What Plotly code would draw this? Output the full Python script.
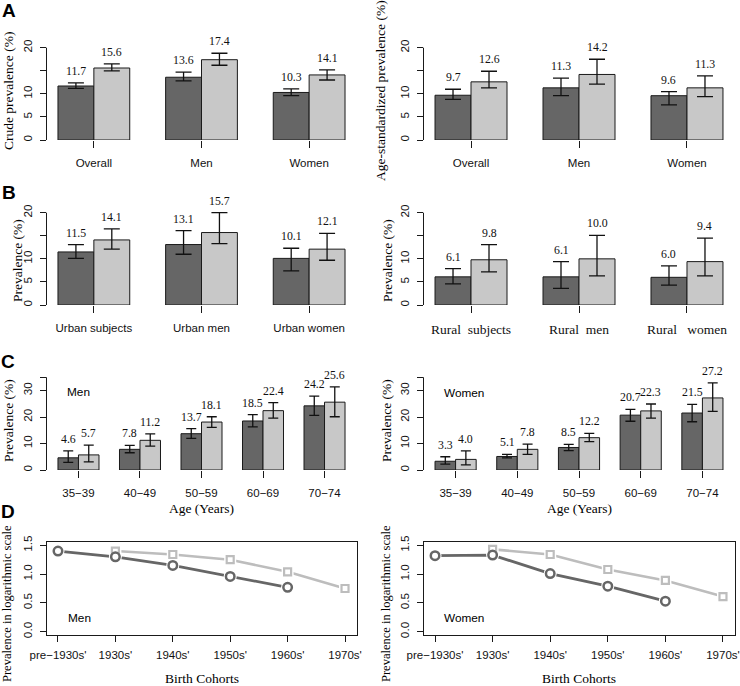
import plotly.graph_objects as go

W, H = 740, 686
SANS = "Liberation Sans, Arial, Helvetica, sans-serif"
SERIF = "Liberation Serif, Times New Roman, serif"
DARK = "#666666"
LIGHT = "#c8c8c8"
LINE_LIGHT = "#bdbdbd"
EDGE = "#1a1a1a"
AXC = "#1a1a1a"
TXT = "#111111"

# ---------------- data ----------------
a_groups = ["Overall", "Men", "Women"]
a1_dark = [11.7, 13.6, 10.3]
a1_dark_lo = [11.2, 12.8, 9.6]
a1_dark_hi = [12.4, 14.7, 11.1]
a1_light = [15.6, 17.4, 14.1]
a1_light_lo = [15.0, 16.2, 13.0]
a1_light_hi = [16.5, 18.8, 15.2]

a2_dark = [9.7, 11.3, 9.6]
a2_dark_lo = [8.8, 9.6, 7.6]
a2_dark_hi = [11.0, 13.4, 10.5]
a2_light = [12.6, 14.2, 11.3]
a2_light_lo = [11.3, 12.1, 9.4]
a2_light_hi = [14.9, 17.5, 13.9]

b_urban_groups = ["Urban subjects", "Urban men", "Urban women"]
b1_dark = [11.5, 13.1, 10.1]
b1_dark_lo = [10.1, 11.0, 7.4]
b1_dark_hi = [13.1, 16.1, 12.3]
b1_light = [14.1, 15.7, 12.1]
b1_light_lo = [12.1, 13.3, 9.7]
b1_light_hi = [16.5, 20.0, 15.5]

b_rural_groups = ["Rural\u00a0\u00a0subjects", "Rural\u00a0\u00a0men", "Rural\u00a0\u00a0\u00a0women"]
b2_dark = [6.1, 6.1, 6.0]
b2_dark_lo = [4.6, 3.6, 4.3]
b2_dark_hi = [7.9, 9.4, 8.5]
b2_light = [9.8, 10.0, 9.4]
b2_light_lo = [7.2, 6.3, 6.3]
b2_light_hi = [13.1, 15.1, 14.5]

c_ages = ["35\u221239", "40\u221249", "50\u221259", "60\u221269", "70\u221274"]
c1_dark = [4.6, 7.8, 13.7, 18.5, 24.2]
c1_dark_lo = [2.9, 6.5, 11.9, 16.3, 20.6]
c1_dark_hi = [7.2, 9.3, 15.6, 20.9, 27.9]
c1_light = [5.7, 11.2, 18.1, 22.4, 25.6]
c1_light_lo = [3.1, 9.0, 16.1, 19.6, 20.1]
c1_light_hi = [9.4, 13.6, 20.1, 25.4, 31.4]

c2_dark = [3.3, 5.1, 8.5, 20.7, 21.5]
c2_dark_lo = [2.2, 4.6, 7.3, 18.4, 18.2]
c2_dark_hi = [5.0, 5.9, 9.7, 22.9, 24.8]
c2_light = [4.0, 7.8, 12.2, 22.3, 27.2]
c2_light_lo = [1.9, 5.9, 10.7, 19.6, 22.1]
c2_light_hi = [7.2, 9.8, 13.8, 24.9, 32.9]

ab_ticks = [0, 5, 10, 15, 20]
ab_ticktext = ["0", "5", "10", "", "20"]
c_ticks = [0, 10, 20, 30, 35]
c_ticktext = ["0", "10", "20", "30", ""]

d_cohorts = ["pre\u22121930s'", "1930s'", "1940s'", "1950s'", "1960s'", "1970s'"]
d_men_dark = [1.40, 1.30, 1.15, 0.96, 0.77, None]
d_men_light = [None, 1.40, 1.34, 1.25, 1.04, 0.75]
d_women_dark = [1.32, 1.33, 1.01, 0.79, 0.53, None]
d_women_light = [None, 1.43, 1.34, 1.08, 0.89, 0.61]
d_ticks = [0, 0.5, 1.0, 1.5]
d_ticktext = ["0.0", "0.5", "1.0", "1.5"]

# ---------------- layout helpers ----------------
LEFT = (46.5, 356.5)
RIGHT = (423.5, 734.5)


def xdom(px):
    return [px[0] / W, px[1] / W]


def ydom(bottom_px, top_px):
    return [1 - bottom_px / H, 1 - top_px / H]


fig = go.Figure()
layout = dict(width=W, height=H, margin=dict(l=0, r=0, t=0, b=0),
              paper_bgcolor="white", plot_bgcolor="rgba(0,0,0,0)",
              showlegend=False, barmode="group", bargap=1 / 3, bargroupgap=0)
shapes = []
annotations = []


def ax_names(idx):
    s = "" if idx == 1 else str(idx)
    return "x" + s, "y" + s, "xaxis" + s, "yaxis" + s


def bar_panel(idx, cats, d, dlo, dhi, l, llo, lhi, xpx, zero_px, k, ytop,
              tickvals, ticktext, cap, xtickfont):
    xa, ya, xk, yk = ax_names(idx)
    for vals, lo, hi, col in ((d, dlo, dhi, DARK), (l, llo, lhi, LIGHT)):
        fig.add_trace(go.Bar(
            x=cats, y=vals, xaxis=xa, yaxis=ya,
            marker=dict(color=col, line=dict(color=EDGE, width=1)),
            error_y=dict(type="data", symmetric=False,
                         array=[h - v for h, v in zip(hi, vals)],
                         arrayminus=[v - q for v, q in zip(vals, lo)],
                         color="#111111", thickness=1.3, width=cap),
            hoverinfo="skip"))
    n = len(cats)
    ext = 0.04 * (3 * n - 1)
    rng_x = [(-1 - ext) / 3, (3 * n - 2 + ext) / 3]
    yr = tickvals[-1] * 1.25
    layout[xk] = dict(domain=xdom(xpx), anchor=ya, type="category", range=rng_x,
                      showline=False, showgrid=False, zeroline=False,
                      ticks="outside", ticklen=7, tickwidth=1, tickcolor=AXC,
                      tickfont=xtickfont, ticklabelstandoff=5, automargin=False,
                      fixedrange=True)
    layout[yk] = dict(domain=ydom(zero_px, zero_px - yr * k), anchor=xa,
                      range=[0, yr], showline=False, showgrid=False, zeroline=False,
                      tickvals=tickvals, ticktext=ticktext, tickangle=-90,
                      ticks="outside", ticklen=6, tickwidth=1, tickcolor=AXC,
                      tickfont=dict(family=SANS, size=11.8, color=TXT),
                      ticklabelstandoff=3, automargin=False, fixedrange=True)
    shapes.append(dict(type="line", xref=xa + " domain", yref=ya,
                       x0=0, x1=0, y0=tickvals[0], y1=tickvals[-1],
                       line=dict(color=AXC, width=1)))
    for i in range(n):
        for off, v, h in ((-1 / 6, d[i], dhi[i]), (1 / 6, l[i], lhi[i])):
            annotations.append(dict(xref=xa, yref=ya, x=i + off, y=h,
                                    text=f"{v:.1f}", showarrow=False,
                                    yanchor="bottom", xanchor="center", yshift=3,
                                    font=dict(family=SERIF, size=11.8, color=TXT)))


sans_tick = dict(family=SANS, size=11.5, color=TXT)
serif_tick = dict(family=SERIF, size=13.5, color=TXT)

K_AB = 4.615
K_C = 2.65
bar_panel(1, a_groups, a1_dark, a1_dark_lo, a1_dark_hi, a1_light, a1_light_lo, a1_light_hi,
          LEFT, 140, K_AB, 20, ab_ticks, ab_ticktext, 8, sans_tick)
bar_panel(2, a_groups, a2_dark, a2_dark_lo, a2_dark_hi, a2_light, a2_light_lo, a2_light_hi,
          RIGHT, 140, K_AB, 20, ab_ticks, ab_ticktext, 8, sans_tick)
bar_panel(3, b_urban_groups, b1_dark, b1_dark_lo, b1_dark_hi, b1_light, b1_light_lo, b1_light_hi,
          LEFT, 305, K_AB, 20, ab_ticks, ab_ticktext, 8, sans_tick)
bar_panel(4, b_rural_groups, b2_dark, b2_dark_lo, b2_dark_hi, b2_light, b2_light_lo, b2_light_hi,
          RIGHT, 305, K_AB, 20, ab_ticks, ab_ticktext, 8, serif_tick)
bar_panel(5, c_ages, c1_dark, c1_dark_lo, c1_dark_hi, c1_light, c1_light_lo, c1_light_hi,
          LEFT, 470, K_C, 35, c_ticks, c_ticktext, 5, sans_tick)
bar_panel(6, c_ages, c2_dark, c2_dark_lo, c2_dark_hi, c2_light, c2_light_lo, c2_light_hi,
          RIGHT, 470, K_C, 35, c_ticks, c_ticktext, 5, sans_tick)

# ---------------- panel D ----------------
D_ZERO = 631.7
D_K = 57.6
D_YR = [-0.06, 1.56]


def line_panel(idx, dark, light, xpx):
    xa, ya, xk, yk = ax_names(idx)
    for vals, col, lw in ((light, LINE_LIGHT, 2.6), (dark, DARK, 2.8)):
        fig.add_trace(go.Scatter(x=d_cohorts, y=vals, xaxis=xa, yaxis=ya, mode="lines",
                                 line=dict(color=col, width=lw), connectgaps=False,
                                 hoverinfo="skip"))
    for vals, sym, sz in ((light, "square", 12), (dark, "circle", 13)):
        fig.add_trace(go.Scatter(x=d_cohorts, y=vals, xaxis=xa, yaxis=ya, mode="markers",
                                 marker=dict(symbol=sym, size=sz, color="white",
                                             line=dict(width=0)),
                                 hoverinfo="skip"))
    for vals, col, sym, sz, mw in ((light, LINE_LIGHT, "square", 7, 2.2),
                                   (dark, DARK, "circle", 8.5, 2.5)):
        fig.add_trace(go.Scatter(x=d_cohorts, y=vals, xaxis=xa, yaxis=ya, mode="markers",
                                 marker=dict(symbol=sym, size=sz, color="white",
                                             line=dict(color=col, width=mw)),
                                 hoverinfo="skip"))
    layout[xk] = dict(domain=xdom(xpx), anchor=ya, type="category", range=[-0.2, 5.2],
                      showline=True, mirror=True, linecolor=AXC, linewidth=1,
                      showgrid=False, zeroline=False, ticks="outside", ticklen=6,
                      tickwidth=1, tickcolor=AXC, tickfont=sans_tick,
                      ticklabelstandoff=3, automargin=False, fixedrange=True)
    bottom = D_ZERO - D_YR[0] * D_K
    top = D_ZERO - D_YR[1] * D_K
    layout[yk] = dict(domain=ydom(bottom, top), anchor=xa, range=D_YR,
                      showline=True, mirror=True, linecolor=AXC, linewidth=1,
                      showgrid=False, zeroline=False, tickvals=d_ticks, ticktext=d_ticktext,
                      tickangle=-90, ticks="outside", ticklen=6, tickwidth=1,
                      tickcolor=AXC, tickfont=dict(family=SANS, size=11.8, color=TXT),
                      ticklabelstandoff=3, automargin=False, fixedrange=True)


line_panel(7, d_men_dark, d_men_light, LEFT)
line_panel(8, d_women_dark, d_women_light, RIGHT)


# ---------------- text ----------------
def ptext(text, px, py, family=SERIF, size=13.5, angle=0, bold=False):
    t = f"<b>{text}</b>" if bold else text
    annotations.append(dict(xref="paper", yref="paper", x=px / W, y=1 - py / H,
                            text=t, showarrow=False, textangle=angle,
                            xanchor="center", yanchor="middle",
                            font=dict(family=family, size=size, color="#000000")))


ptext("A", 9, 10, SANS, 19, bold=True)
ptext("B", 9, 193, SANS, 19, bold=True)
ptext("C", 8, 361, SANS, 19, bold=True)
ptext("D", 8, 511, SANS, 19, bold=True)

ptext("Crude prevalence (%)", 8, 91, angle=-90)
ptext("Age-standardized prevalence (%)", 380, 91, angle=-90)
ptext("Prevalence (%)", 17, 261, angle=-90)
ptext("Prevalence (%)", 387, 261, angle=-90)
ptext("Prevalence (%)", 9, 421, angle=-90)
ptext("Prevalence (%)", 387, 421, angle=-90)
ptext("Prevalence in logarithmic scale", 7, 604, size=12.5, angle=-90)
ptext("Prevalence in logarithmic scale", 386, 604, size=12.5, angle=-90)

ptext("Age (Years)", (LEFT[0] + LEFT[1]) / 2, 509)
ptext("Age (Years)", (RIGHT[0] + RIGHT[1]) / 2, 509)
ptext("Birth Cohorts", (LEFT[0] + LEFT[1]) / 2, 678)
ptext("Birth Cohorts", (RIGHT[0] + RIGHT[1]) / 2, 678)

ptext("Men", 78, 392, SANS, 11.8)
ptext("Women", 464, 393, SANS, 11.8)
ptext("Men", 79, 618, SANS, 11.8)
ptext("Women", 464, 618, SANS, 11.8)

layout["shapes"] = shapes
layout["annotations"] = annotations
fig.update_layout(**layout)
fig.write_html("out.html",
               config={"displayModeBar": False, "staticPlot": True},
               post_script="document.body.style.margin='0';document.body.style.overflow='hidden';")
